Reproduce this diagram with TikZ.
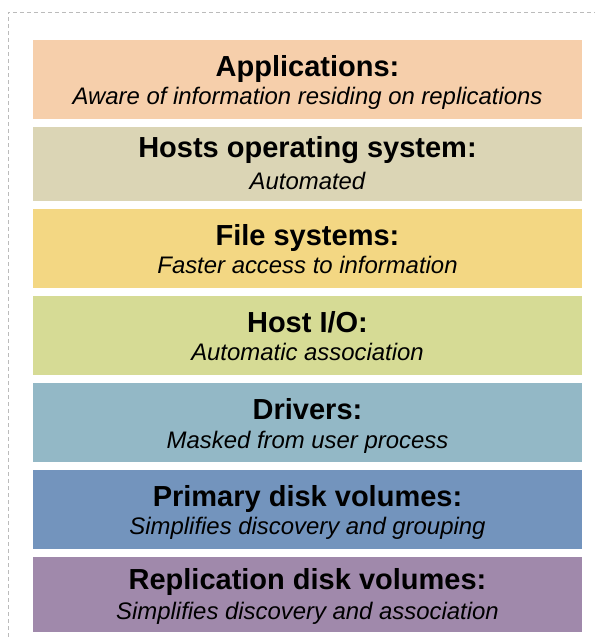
\documentclass[tikz,border=0pt]{standalone}
\usepackage{fontspec}
\setmainfont{Liberation Sans}
\definecolor{c1}{HTML}{F6CFAB}
\definecolor{c2}{HTML}{DBD5B5}
\definecolor{c3}{HTML}{F3D783}
\definecolor{c4}{HTML}{D6DB95}
\definecolor{c5}{HTML}{93B8C6}
\definecolor{c6}{HTML}{7394BD}
\definecolor{c7}{HTML}{A089AB}
\definecolor{bord}{HTML}{BBBBBB}
\begin{document}
\begin{tikzpicture}[x=1pt,y=-1pt,
  ttl/.style={font=\fontsize{29}{31}\selectfont\bfseries},
  sub/.style={font=\fontsize{23.9}{26}\selectfont\itshape}]
\useasboundingbox (0,0) rectangle (595,637);
\draw[bord,dash pattern=on 4pt off 3pt,line width=1pt] (8,637) -- (8,12) -- (595,12);
\foreach \i/\c/\t/\s/\a/\b/\o in {
  0/c1/{Applications:}/{Aware of information residing on replications}/40/119.3/3.5,
  1/c2/{Hosts operating system:}/{Automated}/126.7/200.7/6,
  2/c3/{File systems:}/{Faster access to information}/209.3/288/3.5,
  3/c4/{Host I/O:}/{Automatic association}/296/375.3/3.5,
  4/c5/{Drivers:}/{Masked from user process}/383.3/462.3/3.5,
  5/c6/{Primary disk volumes:}/{Simplifies discovery and grouping}/470/549.3/3.5,
  6/c7/{Replication disk volumes:}/{Simplifies discovery and association}/556.7/632/5}{
  \fill[\c] (33,\a) rectangle (582,\b);
  \node[ttl,anchor=base] (t\i) at (307.5,{(\a+\b)/2-\o}) {\t};
  \node[sub,anchor=base] (s\i) at (307.5,{(\a+\b)/2+25.3}) {\s};
}
\end{tikzpicture}
\end{document}
